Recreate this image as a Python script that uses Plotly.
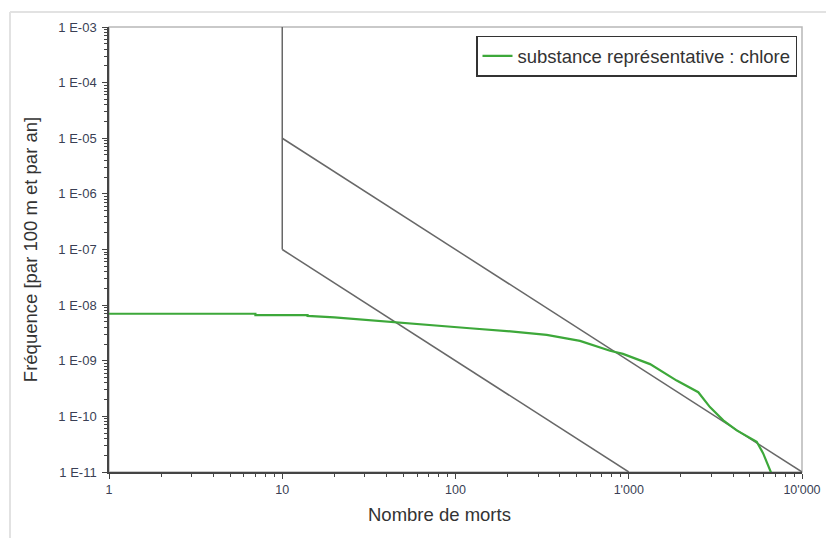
import plotly.graph_objects as go

# Green curve: substance représentative : chlore
green_x = [1, 7, 7, 14, 14, 20, 46, 121, 215, 336, 523, 780, 926, 1327, 1892, 2520, 2942, 3513, 4200, 5479, 5960, 6537, 6700]
green_y = [7.0e-9, 7.0e-9, 6.6e-9, 6.6e-9, 6.4e-9, 6.0e-9, 4.83e-9, 3.84e-9, 3.34e-9, 2.91e-9, 2.28e-9,
           1.51e-9, 1.33e-9, 8.7e-10, 4.4e-10, 2.72e-10, 1.47e-10, 8.5e-11, 5.6e-11, 3.5e-11, 2.18e-11,
           1.09e-11, 9e-12]

# Criteria lines (acceptability limits)
vert_x = [10, 10]
vert_y = [1e-7, 1e-3]
upper_x = [10, 10000]
upper_y = [1e-5, 1e-11]
lower_x = [10, 1000]
lower_y = [1e-7, 1e-11]

x_tickvals = [1, 10, 100, 1000, 10000]
x_ticktext = ["1", "10", "100", "1'000", "10'000"]
y_exps = list(range(-11, -2))
y_tickvals = [10.0 ** e for e in y_exps]
y_ticktext = ["1 E-%02d" % (-e) for e in y_exps]

x_minor = [m * 10.0 ** e for e in range(0, 4) for m in range(2, 10)]
y_minor = [m * 10.0 ** e for e in range(-11, -3) for m in range(2, 10)]

GRAY = "#686868"
fig = go.Figure()
for xs, ys in [(vert_x, vert_y), (upper_x, upper_y), (lower_x, lower_y)]:
    fig.add_trace(go.Scatter(x=xs, y=ys, mode="lines", line=dict(color=GRAY, width=1.5),
                             showlegend=False, hoverinfo="skip"))
fig.add_trace(go.Scatter(x=green_x, y=green_y, mode="lines", name="substance représentative : chlore",
                         line=dict(color="#3da83a", width=2.2)))

FONT = "Liberation Sans, Arial, sans-serif"
OFF = 8  # page body margin
W, H = 834 - OFF, 538 - OFF
L, R, T, B = 109 - OFF, 834 - 802, 24 - OFF, 538 - 472
pw, ph = W - L - R, H - T - B

def px(xp):
    return (xp - OFF - L) / pw

def py(yp):
    return 1 - (yp - OFF - T) / ph

fig.update_layout(
    width=W, height=H,
    margin=dict(l=L, r=R, t=T, b=B),
    paper_bgcolor="white", plot_bgcolor="white",
    font=dict(family=FONT, color="#333333"),
    xaxis=dict(type="log", range=[0, 4], showgrid=False, zeroline=False,
               showline=True, linecolor="#444444", linewidth=1.5,
               ticks="outside", ticklen=5, tickcolor="#444444", tickwidth=1.2,
               tickmode="array", tickvals=x_tickvals, ticktext=x_ticktext,
               tickfont=dict(size=12.5, color="#3a3f55"),
               minor=dict(tickmode="array", tickvals=x_minor, ticks="outside", ticklen=3,
                          tickcolor="#444444", tickwidth=1)),
    yaxis=dict(type="log", range=[-11, -3], showgrid=False, zeroline=False,
               showline=True, linecolor="#444444", linewidth=1.5,
               ticks="outside", ticklen=5, tickcolor="#444444", tickwidth=1.2,
               tickmode="array", tickvals=y_tickvals, ticktext=y_ticktext,
               tickfont=dict(size=13, color="#3a3f55"), ticklabelstandoff=3,
               minor=dict(tickmode="array", tickvals=y_minor, ticks="outside", ticklen=3,
                          tickcolor="#444444", tickwidth=1),
               title=dict(text="Fréquence [par 100 m et par an]", font=dict(size=18.5, color="#333333"),
                          standoff=16)),
    legend=dict(x=px(797), y=py(33), xanchor="right", yanchor="top",
                bordercolor="#333333", borderwidth=1.5, bgcolor="white",
                font=dict(size=18.5, color="#333333"), itemwidth=30),
    annotations=[
        dict(text="Nombre de morts", xref="paper", yref="paper", x=px(439), y=py(515),
             xanchor="center", yanchor="middle", showarrow=False,
             font=dict(size=18.5, color="#333333")),
    ],
    shapes=[
        dict(type="rect", xref="paper", yref="paper", x0=0, y0=0, x1=1, y1=1,
             line=dict(color="#b8b8b8", width=1.5), layer="below"),
        dict(type="line", xref="paper", yref="paper", x0=px(10), y0=py(9), x1=px(850), y1=py(9),
             line=dict(color="#e2e2e2", width=2)),
        dict(type="line", xref="paper", yref="paper", x0=px(10), y0=py(9), x1=px(10), y1=py(560),
             line=dict(color="#e2e2e2", width=2)),
    ],
)

fig.write_html("out.html")
